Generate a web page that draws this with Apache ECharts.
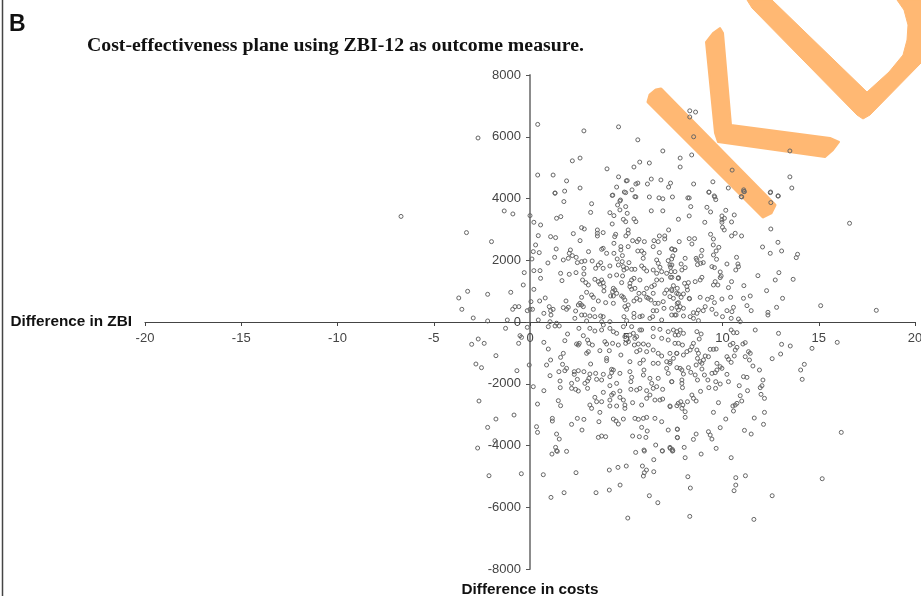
<!DOCTYPE html>
<html><head><meta charset="utf-8">
<script src="https://cdn.jsdelivr.net/npm/echarts@6/dist/echarts.min.js"></script>
<style>html,body{margin:0;padding:0;background:#fff}#c{width:921px;height:596px;filter:blur(0.4px)}</style>
</head><body><div id="c"></div>
<script>
const titleText = "Cost-effectiveness plane using ZBI-12 as outcome measure.";
const panelLabel = "B";
const xAxisName = "Difference in ZBI";
const yAxisName = "Difference in costs";
const xTicks = [-20,-15,-10,-5,0,5,10,15,20];
const yTicks = [-8000,-6000,-4000,-2000,0,2000,4000,6000,8000];
const topBand = [[0.4,6400],[2.8,6190],[4.6,6320],[5.6,5900],[8.3,6840],[8.6,6800],[8.3,6640],[8.5,6000],[6.9,5540],[7.8,5310],[8.4,5410],[7.8,5020],[13.5,5540],[2.2,5220],[2.6,5310],[4.0,4960],[5.4,5020],[5.7,5180],[6.2,5150],[10.5,4920],[0.4,4760],[1.2,4760],[1.9,4570],[2.6,4340],[1.3,4180],[1.8,4240],[4.6,4700],[4.5,4370],[5.0,4570],[5.05,4580],[5.3,4280],[5.5,4470],[5.6,4500],[6.1,4470],[6.3,4630],[6.8,4600],[7.3,4500],[7.2,4370],[8.5,4470],[9.5,4540],[10.3,4340],[9.3,4210],[9.6,4050],[11.1,4280],[11.1,4230],[11,4050],[12.5,4210],[12.9,4080],[13.5,4700],[13.6,4340],[4.3,4110],[4.9,4210],[5.5,4050],[6.2,4050],[6.7,4020],[6.9,3990],[7.4,4050],[8.2,4020],[4.7,3950],[-2.7,5960],[-6.7,3420]];
const upperMiddle = [[1.3,4170],[1.76,3900],[3.2,3830],[3.15,3550],[4.27,4100],[4.97,4190],[5.45,4060],[6.3,3600],[6.9,3600],[4.67,3920],[4.55,3790],[4.97,3737],[4.67,3630],[4.15,3540],[4.36,3445],[5.05,3520],[4.85,3325],[4.97,3250],[4.27,3175],[5.4,3340],[5.5,3250],[-1.34,3597],[-0.89,3500],[-3.3,2895],[-2,2603],[0,3445],[0.2,3230],[0.55,3143],[1.38,3360],[1.6,3413],[2.68,3057],[2.82,3013],[2.25,2862],[3.5,2981],[3.5,2873],[3.8,2895],[3.5,2787],[0.43,2797],[1.07,2765],[1.33,2733],[2.6,2635],[0.29,2495],[0.17,2279],[0.48,2247],[1.36,2365],[1.28,2095],[0.1,2041],[0.93,1912],[1.73,2009],[1.99,2063],[2.1,2333],[2.04,2225],[2.2,2150],[2.4,2095],[3.04,2279],[2.46,1923],[2.68,1955],[2.85,1977],[3.23,1977],[4.45,2840],[4.4,2765],[5.1,2981],[5.1,2873],[4.98,2787],[4.36,2549],[4.72,2441],[4.72,2333],[5.1,2441],[5.33,2635],[5.57,2603],[5.66,2679],[5.94,2603],[6.44,2635],[6.66,2603],[6.72,2787],[7,2787],[7,2690],[7.2,2981],[6.4,2441],[3.8,2387],[3.72,2355],[3.98,2225],[4.36,2225],[4.53,2041],[4.8,2150],[5.6,2300],[5.8,2300],[5.92,2225],[6.72,2247],[7.36,2365],[7.53,2333],[6.58,2009],[6.66,1901],[6.75,1771],[7.36,2041],[7.18,1987],[7.27,1847],[7.3,1771],[5.88,2063],[4.79,1955],[5.14,1923],[3.67,1923],[3.55,1847],[3.41,1739],[3.8,1739],[4.15,1815],[4.59,1847],[4.85,1793],[5.02,1739],[5.28,1707],[5.45,1707],[4.88,1685],[5.8,1815],[5.92,1739],[6.06,1653],[6.4,1685],[6.58,1577],[6.84,1631],[7.1,1577],[7.3,1447],[7.53,1631],[2.8,1739],[2.8,1555],[2.39,1599],[2.04,1545],[1.59,1577],[0.52,1663],[0.2,1663],[-0.3,1599],[0.55,1415],[1.66,1340],[-0.35,1199],[0.2,1058],[-1,962],[-2.2,897],[-3.24,994],[-3.7,778],[-3.54,411],[-2.95,130],[-2.2,33],[-1.18,65],[-0.9,411],[-0.78,497],[-0.58,497],[-0.14,367],[0,411],[0.05,659],[0.5,681],[0.79,778],[1.87,681]];
const lowerMiddleUp = [[0.13,411],[0.72,281],[1,497],[1.07,367],[1.2,411],[1.09,227],[1.73,465],[1.9,411],[1.99,475],[2.37,357],[2.33,119],[2.59,605],[2.68,551],[2.77,497],[2.51,551],[3.29,411],[2.68,227],[2.85,227],[3.11,195],[3.37,173],[3.67,195],[3.8,173],[2.73,1361],[2.9,1275],[3.03,1199],[2.94,962],[2.68,799],[3.2,875],[3.29,799],[3.37,1383],[3.55,1307],[3.72,1361],[3.8,1275],[3.84,1145],[3.63,1231],[3.84,1005],[3.55,681],[3.93,627],[4.15,1491],[4.5,1523],[4.81,1491],[4.33,1091],[4.41,1037],[4.29,983],[4.5,929],[4.33,843],[4.19,843],[4.76,1275],[4.85,799],[4.76,843],[4.93,713],[4.33,605],[5.1,551],[4.93,497],[5.02,411],[5.19,1253],[5.28,1361],[5.4,1415],[5.71,1361],[5.19,1145],[5.28,1059],[5.45,1091],[5.66,929],[5.92,929],[5.54,767],[5.71,713],[5.4,681],[6.06,1091],[6.32,1145],[6.46,1199],[6.58,1361],[6.84,1361],[6.15,767],[6.4,929],[6.06,799],[6.28,713],[6.49,605],[6.66,605],[6.4,367],[6.58,367],[7.1,1037],[7.36,1059],[7.65,1091],[7,929],[7.27,821],[7.45,767],[6.92,659],[7.62,929],[6.96,443],[7.36,443],[7.65,605],[4.88,173],[5.4,281],[5.4,151],[5.71,173],[5.83,195],[6.23,119],[6.37,173],[6.84,65],[7.36,227],[7.53,227],[7.7,1415],[2.94,33],[3.72,10],[4.15,10],[5.02,43],[1.38,-40],[1.04,10],[0.43,65]];
const upperRight = [[8.27,4018],[9.29,4201],[9.57,4083],[9.65,3964],[8.35,3737],[9.19,3715],[9.38,3564],[8.27,3435],[7.71,3327],[9.08,3229],[10.17,3618],[10.61,3467],[9.97,3435],[10.1,3359],[9.97,3305],[9.97,3229],[10.47,3240],[10,3067],[10.09,2981],[10.66,2873],[10.47,2787],[10.99,2787],[9.38,2841],[9.53,2689],[8.27,2700],[8.55,2700],[8.41,2527],[7.75,2603],[9.52,2495],[9.81,2419],[9.67,2301],[9.53,2171],[8.93,2322],[7.37,2365],[7.52,2333],[7.42,2139],[8.06,2063],[8.89,2139],[8.63,2063],[8.67,2009],[9.69,2031],[10.23,1879],[10.73,2095],[10.8,1879],[10.83,1793],[10.69,1685],[9,1923],[8.87,1901],[8.7,1858],[7.85,1879],[8.06,1761],[7.89,1685],[7.37,1847],[7.33,1631],[9.45,1793],[9.58,1761],[9.88,1620],[9.93,1491],[9.88,1437],[7.71,1437],[7.71,1420],[7.37,1447],[8.93,1447],[8.84,1361],[9.62,1307],[9.53,1199],[9.76,1199],[10.47,1307],[10.31,1113],[11.11,1177],[8.03,1253],[8.23,1275],[8.58,1307],[8.15,1145],[8.18,1037],[7.45,1177],[7.37,1015],[7.71,907],[7.97,907],[7.85,799],[8.27,767],[8.29,750],[8.84,799],[9.22,735],[9.45,799],[9.58,627],[9.97,745],[10.42,799],[11.09,767],[11.44,843],[11.27,529],[7.71,627],[7.63,475],[7.8,497],[7.97,443],[7.71,389],[8.49,303],[8.75,389],[8.67,281],[9.1,497],[9,367],[9.45,411],[9.67,259],[10,173],[10.23,367],[10.57,475],[10.49,335],[11.49,367],[7.59,227],[7.97,195],[8.32,173],[8.49,119],[8.75,44],[10.45,119],[10.83,97],[10.92,10],[11.84,1501],[12.74,1361],[12.93,1599],[13.67,1383],[12.29,1015],[13.12,767],[12.81,475],[12.36,313],[12.36,227],[15.1,529],[17.99,378],[16.6,3197],[12.51,3013],[12.88,2581],[12.08,2430],[12.48,2225],[13.07,2301],[13.9,2193],[13.83,2085],[12.51,3867],[12.88,4083],[12.48,4190],[10.97,4061],[11.14,4223]];
const lowerLeft = [[-1.27,-205],[-0.14,-173],[-0.52,-443],[-0.44,-497],[-0.59,-691],[-0.04,-1393],[-2.69,-551],[-2.38,-691],[-3.03,-723],[-1.77,-1091],[-2.81,-1361],[-2.52,-1480],[-0.68,-1577],[-2.65,-2559],[-0.83,-3013],[-1.77,-3143],[-2.2,-3413],[-2.72,-4082],[-1.82,-3845],[0.17,-2095],[0.72,-2225],[0.39,-2657],[1.16,-3121],[1.16,-3207],[0.34,-3391],[0.39,-3575],[1.38,-3629],[1.52,-3791],[1.33,-4061],[1.38,-4169],[0.72,-659],[0.95,-875],[1.81,-605],[1.95,-389],[1.73,-1015],[1.59,-1145],[1.07,-1231],[0.86,-1393],[1.69,-1371],[1.9,-1501],[1.81,-1577],[1.5,-1609],[1.04,-1739],[1.56,-1911],[1.57,-2127],[1.47,-2549],[1.59,-2711]];
const lowerMiddle = [[2.16,-2149],[2.16,-1987],[2.37,-2181],[2.51,-2235],[2.3,-1609],[2.3,-1695],[2.51,-1577],[2.46,-1857],[2.8,-1609],[2.99,-1911],[2.85,-1987],[2.99,-2149],[3.06,-1825],[3.11,-1685],[3.41,-1663],[3.81,-1695],[3.46,-1857],[3.72,-1879],[4.33,-1555],[4.24,-1641],[4.15,-1771],[4.15,-2063],[4.67,-1663],[4.24,-1533],[5.19,-1609],[5.28,-1793],[5.24,-1933],[5.24,-2181],[5.71,-2149],[5.54,-2203],[5.92,-1555],[5.89,-1717],[6.23,-1825],[6.66,-1825],[6.32,-1987],[6.58,-2095],[6.06,-2225],[6.4,-2149],[6.89,-2181],[7.36,-1933],[4.5,-1987],[2.42,-713],[2.51,-745],[2.56,-691],[2.99,-583],[3.06,-691],[3.24,-745],[3.03,-961],[2.94,-1015],[3.63,-929],[4.12,-929],[3.98,-1177],[3.98,-1253],[4.72,-1069],[3.15,-1361],[2.77,-443],[3.89,-637],[3.98,-713],[4.29,-691],[4.59,-745],[4.97,-691],[5.11,-637],[5.42,-745],[5.54,-961],[3.72,-259],[3.81,-97],[4.15,-205],[4.33,-313],[4.5,-367],[4.85,-151],[5.28,-151],[4.93,-475],[5.19,-421],[5.37,-367],[5.71,-259],[5.8,-259],[5.54,-475],[5.45,-529],[3.11,-205],[3.37,-291],[2.54,-205],[1.3,-129],[1.52,-129],[0.95,-151],[5.63,-713],[5.89,-713],[6.15,-745],[5.71,-907],[6.06,-961],[6.4,-907],[6.66,-1015],[6.84,-1101],[7.27,-1015],[7.62,-1015],[6.4,-475],[6.84,-529],[7.18,-583],[7.53,-691],[6.4,-205],[6.75,-237],[7.18,-313],[5.19,-1285],[5.89,-1231],[5.71,-1339],[6.4,-1339],[6.66,-1339],[7.1,-1285],[7.27,-1339],[7.1,-1501],[7.18,-1663],[3.37,-2441],[3.46,-2581],[3.11,-2689],[3.2,-2797],[3.72,-2581],[3.81,-2279],[4.24,-2365],[4.15,-2527],[4.67,-2235],[4.33,-2311],[4.67,-2441],[4.85,-2527],[4.93,-2689],[4.93,-2797],[4.5,-2721],[4.15,-2721],[5.33,-2613],[5.8,-2689],[6.06,-2473],[6.23,-2365],[6.49,-2527],[6.89,-2495],[6.75,-2527],[7.27,-2721],[7.7,-2635],[3.63,-2927],[2.46,-3121],[2.8,-3153],[2.16,-3315],[2.7,-3499],[3.58,-3229],[4.33,-3143],[4.47,-3207],[4.59,-3305],[4.85,-3143],[5.45,-3121],[5.63,-3153],[5.89,-3121],[6.06,-3089],[6.49,-3121],[6.84,-3229],[5.8,-3413],[6.09,-3531],[7.18,-3499],[7.65,-3467],[3.55,-3737],[3.72,-3693],[3.93,-3715],[5.33,-3693],[5.68,-3715],[6.02,-3737],[7.65,-3737],[6.53,-3985],[7.27,-4061],[7.39,-4126],[6.87,-4169],[5.92,-4147],[5.49,-4223]];
const lowerRight = [[12.91,-367],[11.7,-259],[13.07,-723],[13.52,-777],[13.02,-1037],[12.58,-1188],[14.65,-853],[14.25,-1371],[14.06,-1555],[14.14,-1857],[15.96,-659],[16.17,-3575],[11.18,-669],[11.06,-713],[10.75,-821],[10.66,-907],[10.4,-745],[10.54,-691],[10.61,-1101],[10.57,-345],[10.75,-345],[10.45,-259],[11.35,-961],[11.44,-1015],[11.18,-1123],[11.4,-1231],[11.58,-1425],[11.92,-1555],[12.1,-1879],[12.05,-2063],[11.96,-2127],[12,-2343],[12.18,-2473],[11.09,-1771],[11.27,-1793],[10.87,-2063],[11.3,-2225],[10.92,-2387],[11,-2559],[10.75,-2635],[10.66,-2689],[10.54,-2721],[10.57,-2883],[12.18,-2927],[11.65,-3110],[12.13,-3315],[11.49,-3629],[11.14,-3510],[10.17,-3143],[9.88,-3423],[9.79,-2613],[9.53,-2927],[8.86,-2246],[9.29,-2127],[9.64,-2149],[9.88,-2009],[9.65,-1933],[10.31,-1933],[10.23,-1695],[9.45,-1663],[9.62,-1641],[9.71,-1555],[9.88,-1447],[9.71,-1339],[9.97,-1501],[10.23,-1123],[10.31,-1209],[10.45,-1307],[9.53,-885],[9.36,-885],[9.67,-875],[9.1,-1101],[9.27,-1123],[8.93,-1339],[9.01,-1231],[8.84,-1285],[8.93,-1523],[9.06,-1717],[8.67,-907],[8.75,-1015],[8.7,-1177],[8.63,-1393],[8.49,-691],[8.41,-799],[8.32,-907],[8.15,-961],[8.67,-313],[8.89,-389],[8.79,-551],[7.71,-691],[7.92,-745],[7.45,-259],[7.63,-313],[7.8,-259],[7.97,-367],[7.71,-421],[7.54,-421],[7.63,-1015],[7.97,-1069],[7.45,-1177],[7.28,-1285],[7.63,-1479],[7.89,-1555],[7.8,-1501],[8.23,-1479],[7.97,-1685],[8.35,-1631],[8.58,-1717],[8.7,-1879],[9.24,-1879],[7.37,-1933],[7.89,-1879],[7.89,-1987],[7.92,-2127],[8.41,-2365],[8.49,-2473],[8.63,-2559],[8.18,-2581],[7.83,-2581],[7.94,-2689],[7.63,-2711],[7.28,-2743],[7.89,-2797],[8.06,-2905],[8.06,-3089],[7.66,-3477],[7.66,-3747],[8.49,-3802],[8.63,-3629],[9.27,-3553],[9.36,-3661],[9.45,-3791],[8.01,-4061],[9.67,-4093],[8.89,-4277],[7.28,-4093],[7.42,-4169]];
const bottomBand = [[-2.13,-4979],[-0.45,-4914],[0.69,-4946],[2.39,-4881],[1.09,-5681],[1.77,-5529],[3.43,-5529],[4.12,-5443],[4.68,-5281],[4.12,-4795],[4.57,-4709],[5,-4665],[5.84,-4665],[6.05,-4795],[5.94,-4881],[5.89,-4989],[6.43,-4849],[6.43,-4460],[5.94,-4180],[6.88,-4180],[7.4,-4180],[8.06,-4395],[10.45,-4395],[8.2,-5011],[8.33,-5378],[10.69,-5043],[11.19,-4979],[10.69,-5281],[10.6,-5465],[12.58,-5627],[15.18,-5076],[6.2,-5627],[6.64,-5853],[5.08,-6350],[8.3,-6296],[11.63,-6393],[1.14,-4277],[1.42,-4190],[1.9,-4190]];
const allPoints = [].concat(topBand, upperMiddle, lowerMiddleUp, upperRight, lowerLeft, lowerMiddle, lowerRight, bottomBand);

const wm = "#FFB873";
const chart = echarts.init(document.getElementById('c'), null, {renderer:'canvas'});
chart.setOption({
  animation:false,
  backgroundColor:'#fff',
  title:{text:titleText,left:87,top:36,padding:0,textStyle:{fontFamily:'"Liberation Serif"',fontWeight:'bold',fontSize:19.8,color:'#111'}},
  grid:{left:145,right:6,top:75,bottom:27,containLabel:false,outerBoundsMode:'none'},
  xAxis:{type:'value',min:xTicks[0],max:xTicks[xTicks.length-1],interval:5,position:'bottom',offset:-247,
    name:xAxisName,nameLocation:'start',nameGap:13,
    nameTextStyle:{fontFamily:'"Liberation Sans"',fontWeight:'bold',fontSize:15.3,color:'#111',padding:[0,0,4,0]},
    axisLine:{onZero:false,lineStyle:{color:'#444',width:1.2}},
    axisTick:{show:true,length:4,lineStyle:{color:'#444'}},
    axisLabel:{margin:10,showMinLabel:true,showMaxLabel:true,hideOverlap:false,fontFamily:'"Liberation Sans"',fontSize:13,color:'#444',formatter:v=>String(v)},
    splitLine:{show:false}},
  yAxis:{type:'value',min:yTicks[0],max:yTicks[yTicks.length-1],interval:2000,position:'left',offset:-385,
    name:yAxisName,nameLocation:'start',nameGap:13,
    nameTextStyle:{fontFamily:'"Liberation Sans"',fontWeight:'bold',fontSize:15.3,color:'#111'},
    axisLine:{onZero:false,lineStyle:{color:'#8c8c8c',width:2}},
    axisTick:{show:true,length:4,lineStyle:{color:'#555'}},
    axisLabel:{margin:9,showMinLabel:true,showMaxLabel:true,hideOverlap:false,fontFamily:'"Liberation Sans"',fontSize:13,color:'#444',formatter:v=>String(v)},
    splitLine:{show:false}},
  graphic:{elements:[
    {type:'text',left:9,top:13,z:5,style:{text:panelLabel,fontFamily:'"Liberation Sans"',fontWeight:'bold',fontSize:23,fill:'#111'}},
    {type:'line',z:5,shape:{x1:2.5,y1:0,x2:2.5,y2:596},style:{stroke:'#444',lineWidth:1.5}},
    {type:'polygon',z:-1,shape:{points:[[648,102],[650,95],[656,90],[661,89],[775,205],[771,213],[763,217]]},style:{fill:wm,stroke:wm,lineWidth:3,lineJoin:'round'}},
    {type:'polygon',z:-1,shape:{points:[[706,42],[713,33],[720,28],[723,33],[731,125],[830,138],[839,142],[833,150],[825,157],[718,142],[715,133]]},style:{fill:wm,stroke:wm,lineWidth:2,lineJoin:'round'}},
    {type:'polygon',z:-1,shape:{points:[[747,0],[752,8],[857,115],[863,119],[870,115],[921,63],[921,0],[897,0],[904,10],[908,25],[907,40],[903,55],[889,72],[867,92],[772,0]]},style:{fill:wm,stroke:wm,lineWidth:1,lineJoin:'round'}}
  ]},
  series:[{type:'scatter',data:allPoints,symbol:'circle',symbolSize:4,silent:true,
    itemStyle:{color:'rgba(255,255,255,0)',borderColor:'#666',borderWidth:1,opacity:1}}]
});
</script></body></html>
